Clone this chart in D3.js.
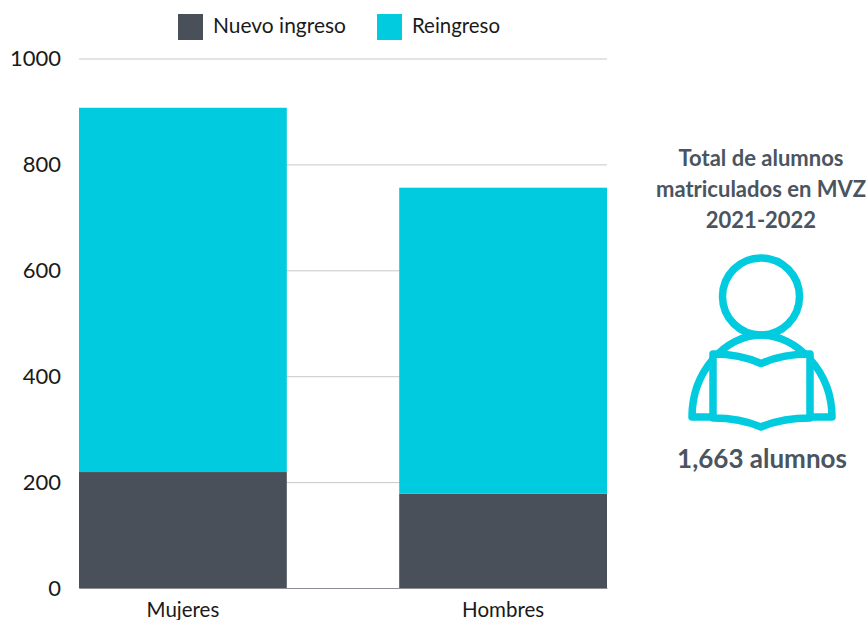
<!DOCTYPE html>
<html><head><meta charset="utf-8">
<script src="https://cdn.jsdelivr.net/npm/d3@7"></script>
<style>html,body{margin:0;padding:0;background:#fff}svg{display:block}text{font-family:Lato,"Open Sans",sans-serif}</style>
</head><body><svg id="c" width="868" height="620"></svg>
<script>
const categories=["Mujeres","Hombres"];
const seriesNames=["Nuevo ingreso","Reingreso"];
const nuevoIngreso=[219,178];
const reingreso=[688,578];
const yTicks=[0,200,400,600,800,1000];
const titleLines=["Total de alumnos","matriculados en MVZ","2021-2022"];
const totalLabel="1,663 alumnos";
const colors=["#4a5059","#00cbdf"];

const svg=d3.select("#c");
const x=d3.scaleBand().domain(categories).range([79,607]).paddingInner(0.351).paddingOuter(0);
const y=d3.scaleLinear().domain([0,1000]).range([588,58.5]);

const yAxis=d3.axisLeft(y).tickValues(yTicks).tickSize(-528).tickPadding(18).tickFormat(d3.format("d"));
const gy=svg.append("g").attr("transform","translate(79,0)").call(yAxis);
gy.select(".domain").remove();
gy.selectAll("line").attr("stroke","#c8c8c8").attr("stroke-width",1);
gy.selectAll("text").attr("font-size",22).attr("fill","#1a1a1a").attr("dy","0.32em");

const rows=categories.map((c,i)=>({c,Nuevo:nuevoIngreso[i],Re:reingreso[i]}));
const stack=d3.stack().keys(["Nuevo","Re"])(rows);
svg.append("g").selectAll("g").data(stack).join("g").attr("fill",(d,i)=>colors[i])
 .selectAll("rect").data(d=>d).join("rect")
 .attr("x",d=>x(d.data.c)).attr("width",x.bandwidth())
 .attr("y",d=>y(d[1])).attr("height",d=>y(d[0])-y(d[1]));

const gx=svg.append("g").attr("transform","translate(0,588)").call(d3.axisBottom(x).tickSize(0).tickPadding(14));
gx.select(".domain").attr("stroke","#8b8f95").attr("stroke-width",1);
gx.selectAll("text").attr("font-size",20.5).attr("fill","#1a1a1a");

const leg=svg.append("g");
[[178,213,133],[377,412,88]].forEach(([bx,tx,w],i)=>{
 leg.append("rect").attr("x",bx).attr("y",14).attr("width",25).attr("height",26).attr("fill",colors[i]);
 leg.append("text").attr("x",tx).attr("y",33).attr("font-size",21).attr("fill","#1a1a1a")
  .attr("textLength",w).attr("lengthAdjust","spacingAndGlyphs").text(seriesNames[i]);
});

const side=svg.append("g").attr("text-anchor","middle").attr("fill","#4a5560").attr("font-weight",700);
titleLines.forEach((t,i)=>side.append("text").attr("x",761).attr("y",166+i*31).attr("font-size",22).text(t));
side.append("text").attr("x",762).attr("y",468).attr("font-size",26).text(totalLabel);

const ic=svg.append("g").attr("fill","none").attr("stroke","#00cbdf").attr("stroke-width",7.5).attr("stroke-linejoin","round").attr("stroke-linecap","round");
ic.append("circle").attr("cx",761).attr("cy",296.5).attr("r",38.5);
ic.append("path").attr("d","M692 417 C692 372 725 335 761 335 C797 335 832 372 832 417 Z");
ic.append("path").attr("fill","#fff").attr("d","M713 354 Q740 354 761 363.5 Q782 354 810 354 L810 418 Q782 418 761 427 Q740 418 713 418 Z");
</script></body></html>
